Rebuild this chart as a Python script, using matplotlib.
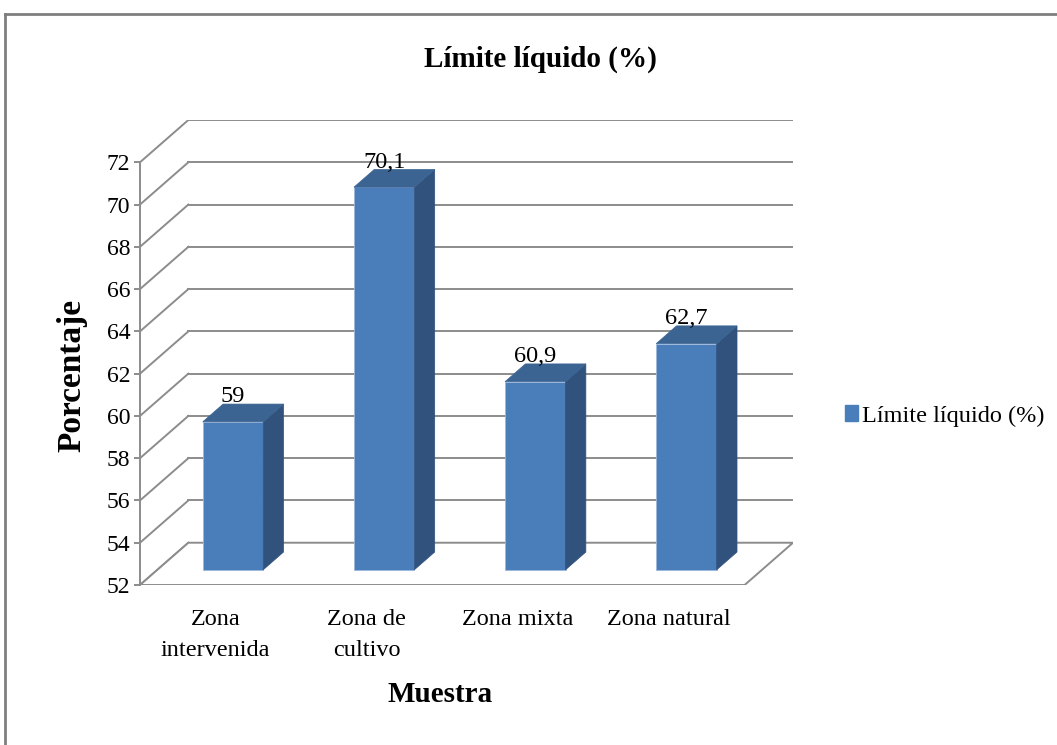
import matplotlib
matplotlib.use("Agg")
import matplotlib.pyplot as plt
from matplotlib.patches import Patch
from matplotlib.lines import Line2D

plt.rcParams['font.family'] = ['Liberation Serif', 'DejaVu Serif']

categorias = ["Zona\nintervenida", "Zona de\ncultivo", "Zona mixta", "Zona natural"]
valores = [59, 70.1, 60.9, 62.7]
etiquetas = ["59", "70,1", "60,9", "62,7"]
yticks = list(range(52, 73, 2))
serie = "Límite líquido (%)"

# colores tipo Excel
c_frente = '#4a7ebb'
c_lado = '#31527d'
c_tope = '#3b6493'
c_grid = '#8c8c8c'

# profundidad del "3D"
ddx = 0.32   # desplazamiento x de la pared del fondo (unidades de categoria)
ddy = 2.0    # desplazamiento y (unidades de valor)
ancho = 0.4
d_front, d_back = 0.36, 0.78
ymin = 52

fig = plt.figure(figsize=(10.57, 7.45), dpi=100)
W, H = 1057, 745
# ejes: x=140..793 px, y=120..585 px
ax = fig.add_axes([140 / W, 1 - 585 / H, (793 - 140) / W, (585 - 120) / H])
ax.set_xlim(-0.5, 3.5 + ddx)
ax.set_ylim(ymin, yticks[-1] + ddy)
ax.patch.set_alpha(0)

# pared del fondo y pared izquierda
for v in yticks:
    ax.plot([-0.5 + ddx, 3.5 + ddx], [v + ddy, v + ddy], color=c_grid, lw=1.4, zorder=1)
    ax.plot([-0.5, -0.5 + ddx], [v, v + ddy], color=c_grid, lw=1.4, zorder=1)

# piso
ax.fill([-0.5, 3.5, 3.5 + ddx, -0.5 + ddx], [ymin, ymin, ymin + ddy, ymin + ddy],
        facecolor='white', edgecolor=c_grid, lw=1.4, zorder=2)

# barras
for i, v in enumerate(valores):
    xf0 = i - ancho / 2 + d_front * ddx
    xf1 = i + ancho / 2 + d_front * ddx
    yb = ymin + d_front * ddy
    yt = v + d_front * ddy
    sx = (d_back - d_front) * ddx
    sy = (d_back - d_front) * ddy
    ax.fill([xf0, xf1, xf1, xf0], [yb, yb, yt, yt], facecolor=c_frente,
            edgecolor='#9db8dc', lw=0.6, zorder=3)
    ax.fill([xf1, xf1 + sx, xf1 + sx, xf1], [yb, yb + sy, yt + sy, yt],
            facecolor=c_lado, edgecolor=c_lado, lw=0.5, zorder=3)
    ax.fill([xf0, xf1, xf1 + sx, xf0 + sx], [yt, yt, yt + sy, yt + sy],
            facecolor=c_tope, edgecolor=c_tope, lw=0.5, zorder=3)
    ax.text(i + d_front * ddx, v + d_back * ddy - 0.15, etiquetas[i], ha='center',
            va='bottom', fontsize=17.5, zorder=4)

# ejes
for s in ['top', 'right', 'bottom']:
    ax.spines[s].set_visible(False)
ax.spines['left'].set_bounds(ymin, yticks[-1])
ax.spines['left'].set_color(c_grid)
ax.spines['left'].set_linewidth(1.4)
ax.set_yticks(yticks)
ax.set_yticklabels([str(t) for t in yticks], fontsize=17)
ax.tick_params(axis='y', direction='out', length=4, width=1.4, color=c_grid, pad=3)
ax.set_xticks(range(len(categorias)))
ax.set_xticklabels(categorias, fontsize=17.5, linespacing=1.65)
ax.tick_params(axis='x', length=0, pad=17)

fig.text(540 / W, 1 - 59 / H, serie, ha='center', va='center', fontsize=21,
         fontweight='bold')
fig.text(72 / W, 1 - 375 / H, "Porcentaje", ha='center', va='center', fontsize=24,
         fontweight='bold', rotation=90)
fig.text(440 / W, 1 - 694 / H, "Muestra", ha='center', va='center', fontsize=21,
         fontweight='bold')

fig.legend(handles=[Patch(facecolor=c_frente, edgecolor=c_frente)], labels=[serie],
           loc='center left', bbox_to_anchor=(845 / W, 1 - 416 / H), frameon=False,
           fontsize=17.5, handlelength=0.55, handleheight=0.65, handletextpad=0.15,
           borderpad=0, borderaxespad=0)

# marco del grafico
fig.add_artist(Line2D([5 / W, 1], [1 - 14 / H, 1 - 14 / H], color='#7f7f7f', lw=2))
fig.add_artist(Line2D([5 / W, 5 / W], [0, 1 - 14 / H], color='#7f7f7f', lw=2))

fig.savefig("out.png", dpi=100)
